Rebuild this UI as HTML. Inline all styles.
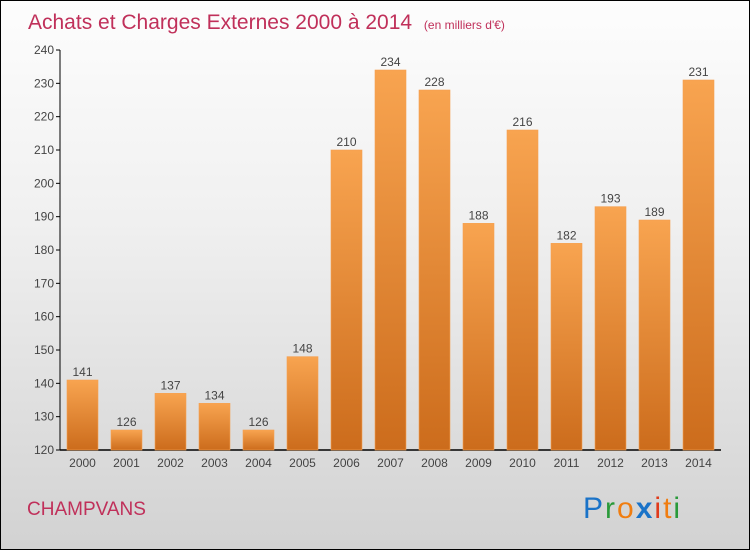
<!DOCTYPE html>
<html><head><meta charset="utf-8"><style>
body{margin:0}
#c{width:748px;height:548px;border:1px solid #000;background:linear-gradient(#fdfdfd,#f0f0f0 40%,#d2d2d2);position:relative;font-family:"Liberation Sans",sans-serif}
</style></head><body>
<div id="c">
<svg width="748" height="548" id="s">
<defs><linearGradient id="g" x1="0" y1="0" x2="0" y2="1"><stop offset="0" stop-color="#f8a450"/><stop offset="1" stop-color="#cc6c1c"/></linearGradient></defs>
<text x="27" y="28" font-size="21" fill="#c0305a">Achats et Charges Externes 2000 à 2014 <tspan font-size="12" dx="6">(en milliers d'€)</tspan></text>
<text x="26" y="514" font-size="19" fill="#c0305a">CHAMPVANS</text>
<g font-size="30" font-family="'Liberation Sans',sans-serif">
<text x="582" y="517" letter-spacing="2"><tspan fill="#1a73c8">P</tspan><tspan fill="#2a9a3a">r</tspan><tspan fill="#f07d10">o</tspan><tspan fill="#1a73c8" font-weight="bold">x</tspan><tspan fill="#e03a1a">i</tspan><tspan fill="#f07d10">t</tspan><tspan fill="#2a9a3a">i</tspan></text></g>
<g id="ax"></g><g id="bars"></g>
</svg></div>
<script>
const years=["2000","2001","2002","2003","2004","2005","2006","2007","2008","2009","2010","2011","2012","2013","2014"];
const values=[141,126,137,134,126,148,210,234,228,188,216,182,193,189,231];
const ticks=[120,130,140,150,160,170,180,190,200,210,220,230,240];
const ns="http://www.w3.org/2000/svg";
const y=v=>449-(v-120)*(400/120);
const x=i=>81+i*44;
function mk(t,a,p){const e=document.createElementNS(ns,t);for(const k in a)e.setAttribute(k,a[k]);p.appendChild(e);return e;}
const ax=document.getElementById('ax'),bg=document.getElementById('bars');
const yl=mk('line',{x1:59,y1:y(240),x2:59,y2:y(120),stroke:'#000'},ax);


const xl=mk('line',{x1:59,y1:y(120),x2:720,y2:y(120),stroke:'#000','stroke-width':1.5},ax);


ticks.forEach(t=>{
 mk('line',{x1:55,x2:59,y1:y(t),y2:y(t),stroke:'#000'},ax);
 const tx=mk('text',{x:53,y:y(t)+4,'text-anchor':'end','font-size':12,fill:'#444'},ax);tx.textContent=t;
 
 
});
years.forEach((yr,i)=>{
 const v=values[i];
 const r=mk('rect',{x:x(i)-15,y:y(v),width:31,height:y(120)-y(v),fill:'url(#g)',stroke:'#f5a050','stroke-width':0.6},bg);
 
 
 const lb=mk('text',{x:x(i)+0.5,y:y(v)-4,'text-anchor':'middle','font-size':12,fill:'#444'},bg);lb.textContent=v;
 
 
 const xt=mk('text',{x:x(i)+0.5,y:466,'text-anchor':'middle','font-size':12,fill:'#444'},bg);xt.textContent=yr;
 
 
});
</script>
</body></html>
